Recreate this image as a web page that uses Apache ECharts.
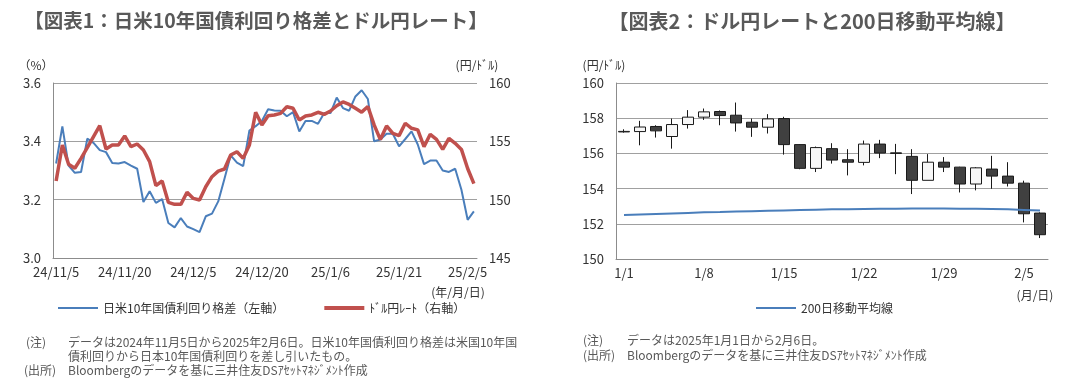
<!DOCTYPE html>
<html><head><meta charset="utf-8">
<script src="https://cdn.jsdelivr.net/npm/echarts@6/dist/echarts.min.js"></script>
<style>html,body{margin:0;padding:0;background:#fff}#c{width:1084px;height:385px}</style>
</head><body><div id="c"></div>
<script>
// ---- Chart 1 data ----
const dates1 = [
  '24/11/5','24/11/6','24/11/7','24/11/8','24/11/11','24/11/12','24/11/13','24/11/14','24/11/15','24/11/18','24/11/19',
  '24/11/20','24/11/21','24/11/22','24/11/25','24/11/26','24/11/27','24/11/28','24/11/29','24/12/2','24/12/3','24/12/4',
  '24/12/5','24/12/6','24/12/9','24/12/10','24/12/11','24/12/12','24/12/13','24/12/16','24/12/17','24/12/18','24/12/19',
  '24/12/20','24/12/23','24/12/24','24/12/25','24/12/26','24/12/27','24/12/30','24/12/31','25/1/1','25/1/2','25/1/3',
  '25/1/6','25/1/7','25/1/8','25/1/9','25/1/10','25/1/13','25/1/14','25/1/15','25/1/16','25/1/17','25/1/20',
  '25/1/21','25/1/22','25/1/23','25/1/24','25/1/27','25/1/28','25/1/29','25/1/30','25/1/31','25/2/3','25/2/4',
  '25/2/5','25/2/6'
];
const spread = [
  3.324,3.451,3.317,3.292,3.295,3.409,3.395,3.370,3.363,3.326,3.324,
  3.329,3.317,3.306,3.192,3.229,3.189,3.202,3.120,3.105,3.137,3.108,
  3.099,3.089,3.143,3.152,3.194,3.272,3.352,3.327,3.315,3.437,3.452,
  3.470,3.510,3.506,3.505,3.486,3.500,3.434,3.470,3.470,3.460,3.497,
  3.497,3.550,3.514,3.505,3.554,3.575,3.545,3.400,3.406,3.426,3.426,
  3.383,3.408,3.434,3.389,3.322,3.334,3.334,3.300,3.295,3.306,3.234,
  3.131,3.160
];
const usdjpy = [
  151.60,154.69,153.03,152.69,153.54,154.46,155.40,156.34,154.34,154.69,154.69,
  155.46,154.54,154.77,154.26,153.26,151.20,151.60,149.77,149.60,149.60,150.63,
  150.11,149.97,151.11,151.97,152.45,152.63,153.83,154.11,153.54,154.69,157.49,
  156.40,157.20,157.26,157.40,157.97,157.83,156.83,157.17,157.26,157.49,157.31,
  157.60,158.05,158.38,158.16,157.83,157.50,157.98,156.41,155.15,156.32,155.69,
  155.49,156.55,156.12,155.98,154.54,155.60,155.17,154.31,155.26,154.83,154.31,
  152.67,151.38
];
// ---- Chart 2 data ----
const dates2 = ['1/1','1/2','1/3','1/6','1/7','1/8','1/9','1/10','1/13','1/14','1/15','1/16','1/17','1/20',
  '1/21','1/22','1/23','1/24','1/27','1/28','1/29','1/30','1/31','2/3','2/4','2/5','2/6'];
// [open, close, low, high]
const ohlc = [
  [157.22,157.25,157.18,157.37],
  [157.24,157.50,156.46,157.85],
  [157.53,157.28,156.90,157.60],
  [156.96,157.64,156.27,157.98],
  [157.64,158.06,157.41,158.46],
  [158.06,158.36,157.90,158.55],
  [158.38,158.15,157.60,158.44],
  [158.17,157.73,157.24,158.89],
  [157.77,157.49,156.94,157.98],
  [157.49,157.96,157.13,158.23],
  [157.98,156.50,155.93,158.08],
  [156.50,155.15,155.10,156.52],
  [155.15,156.33,154.94,156.39],
  [156.27,155.62,155.42,156.58],
  [155.64,155.50,154.75,156.24],
  [155.49,156.53,155.32,156.73],
  [156.53,156.02,155.73,156.77],
  [156.03,156.00,154.82,156.54],
  [155.83,154.47,153.69,156.24],
  [154.47,155.50,154.47,155.96],
  [155.50,155.22,154.94,155.79],
  [155.22,154.26,153.78,155.24],
  [154.26,155.18,153.90,155.22],
  [155.11,154.71,153.99,155.86],
  [154.71,154.31,154.12,155.50],
  [154.31,152.57,152.08,154.45],
  [152.61,151.38,151.19,152.65]
];
const ma200 = [152.50,152.53,152.56,152.59,152.62,152.65,152.67,152.70,152.72,152.74,152.76,152.78,152.80,
  152.82,152.83,152.84,152.85,152.86,152.87,152.87,152.87,152.86,152.85,152.84,152.82,152.79,152.76];

const F = '"Noto Sans CJK JP", sans-serif';
const TXT = '#333';
const NOTE = '#595959';
const AX = '#8c8c8c';
const GRID = '#a0a0a0';
const BLUE = '#4a7ebb';
const RED = '#c0504d';

const chart = echarts.init(document.getElementById('c'), null, {renderer:'canvas'});
function txt(x, y, text, opts) {
  return {type:'text', x:x, y:y, silent:true, style:Object.assign({
    text:text, fontFamily:F, fontSize:12, fill:NOTE, align:'left', verticalAlign:'middle'}, opts||{})};
}
const thinLine = 'path://M0 0H40V2H0Z';
const thickLine = 'path://M0 0H40V4H0Z';
const option = {
  animation:false,
  backgroundColor:'#fff',
  textStyle:{fontFamily:F},
  grid:[
    {left:53, top:83, width:424, height:175},
    {left:616, top:83, width:432, height:176}
  ],
  xAxis:[
    {type:'category', gridIndex:0, data:dates1, boundaryGap:true,
     axisLine:{lineStyle:{color:AX}},
     axisTick:{interval:10, length:5, lineStyle:{color:AX}},
     axisLabel:{interval:10, color:TXT, fontSize:13, margin:8, fontFamily:F},
     splitLine:{show:false}},
    {type:'category', gridIndex:1, data:dates2, boundaryGap:true,
     axisLine:{lineStyle:{color:AX}},
     axisTick:{interval:4, length:5, inside:true, lineStyle:{color:AX}},
     axisLabel:{interval:4, color:TXT, fontSize:13, margin:8, fontFamily:F},
     splitLine:{show:false}}
  ],
  yAxis:[
    {type:'value', gridIndex:0, min:3.0, max:3.6, interval:0.2,
     axisLine:{show:true, lineStyle:{color:AX}}, axisTick:{show:false},
     axisLabel:{color:TXT, fontSize:13, margin:12, fontFamily:F, formatter:v=>v.toFixed(1)},
     splitLine:{lineStyle:{color:GRID}}},
    {type:'value', gridIndex:0, position:'right', min:145, max:160, interval:5,
     axisLine:{show:false}, axisTick:{show:false},
     axisLabel:{color:TXT, fontSize:13, margin:12, fontFamily:F},
     splitLine:{show:false}},
    {type:'value', gridIndex:1, min:150, max:160, interval:2,
     axisLine:{show:true, lineStyle:{color:AX}}, axisTick:{show:false},
     axisLabel:{color:TXT, fontSize:13, margin:12, fontFamily:F},
     splitLine:{lineStyle:{color:GRID}}}
  ],
  legend:[
    {data:[{name:'日米10年国債利回り格差（左軸）', icon:thinLine, itemStyle:{color:BLUE}},
           {name:'ﾄﾞﾙ円ﾚｰﾄ（右軸）', icon:thickLine, itemStyle:{color:RED}}],
     left:53, top:297, itemWidth:40, itemHeight:14, itemGap:40,
     textStyle:{color:TXT, fontSize:12, fontFamily:F}, selectedMode:false},
    {data:[{name:'200日移動平均線', icon:thinLine, itemStyle:{color:BLUE}}],
     left:751, top:297, itemWidth:40, itemHeight:14,
     textStyle:{color:TXT, fontSize:12, fontFamily:F}, selectedMode:false}
  ],
  series:[
    {name:'日米10年国債利回り格差（左軸）', type:'line', xAxisIndex:0, yAxisIndex:0, data:spread,
     symbol:'none', lineStyle:{color:BLUE, width:2}, itemStyle:{color:BLUE}, z:2},
    {name:'ﾄﾞﾙ円ﾚｰﾄ（右軸）', type:'line', xAxisIndex:0, yAxisIndex:1, data:usdjpy,
     symbol:'none', lineStyle:{color:RED, width:3.5}, itemStyle:{color:RED}, z:3},
    {name:'ドル円', type:'candlestick', xAxisIndex:1, yAxisIndex:2, data:ohlc, barWidth:12,
     itemStyle:{color:'#f7f7f7', color0:'#404040', borderColor:'#1a1a1a', borderColor0:'#1a1a1a', borderWidth:1}},
    {name:'200日移動平均線', type:'line', xAxisIndex:1, yAxisIndex:2, data:ma200,
     symbol:'none', lineStyle:{color:BLUE, width:2}, itemStyle:{color:BLUE}, z:4}
  ],
  graphic:[
    txt(256, 21, '【図表1：日米10年国債利回り格差とドル円レート】', {fontSize:19.5, fontWeight:'bold', fill:NOTE, align:'center'}),
    txt(812, 21, '【図表2：ドル円レートと200日移動平均線】', {fontSize:20, fontWeight:'bold', fill:NOTE, align:'center'}),
    txt(36, 65, '（%）', {fill:TXT, align:'center'}),
    txt(477, 65, '(円/ﾄﾞﾙ)', {fill:TXT, align:'center'}),
    txt(604, 65, '(円/ﾄﾞﾙ)', {fill:TXT, align:'center'}),
    txt(458, 292, '(年/月/日)', {fill:TXT, align:'center'}),
    txt(1035, 295, '(月/日)', {fill:TXT, align:'center'}),
    txt(26, 342, '(注)'),
    txt(68, 342, 'データは2024年11月5日から2025年2月6日。日米10年国債利回り格差は米国10年国'),
    txt(68, 356, '債利回りから日本10年国債利回りを差し引いたもの。'),
    txt(24, 370, '(出所)'),
    txt(68, 370, 'Bloombergのデータを基に三井住友DSｱｾｯﾄﾏﾈｼﾞﾒﾝﾄ作成'),
    txt(583, 340, '(注)'),
    txt(627, 340, 'データは2025年1月1日から2月6日。'),
    txt(583, 355, '(出所)'),
    txt(627, 355, 'Bloombergのデータを基に三井住友DSｱｾｯﾄﾏﾈｼﾞﾒﾝﾄ作成')
  ]
};
chart.setOption(option);
</script></body></html>
